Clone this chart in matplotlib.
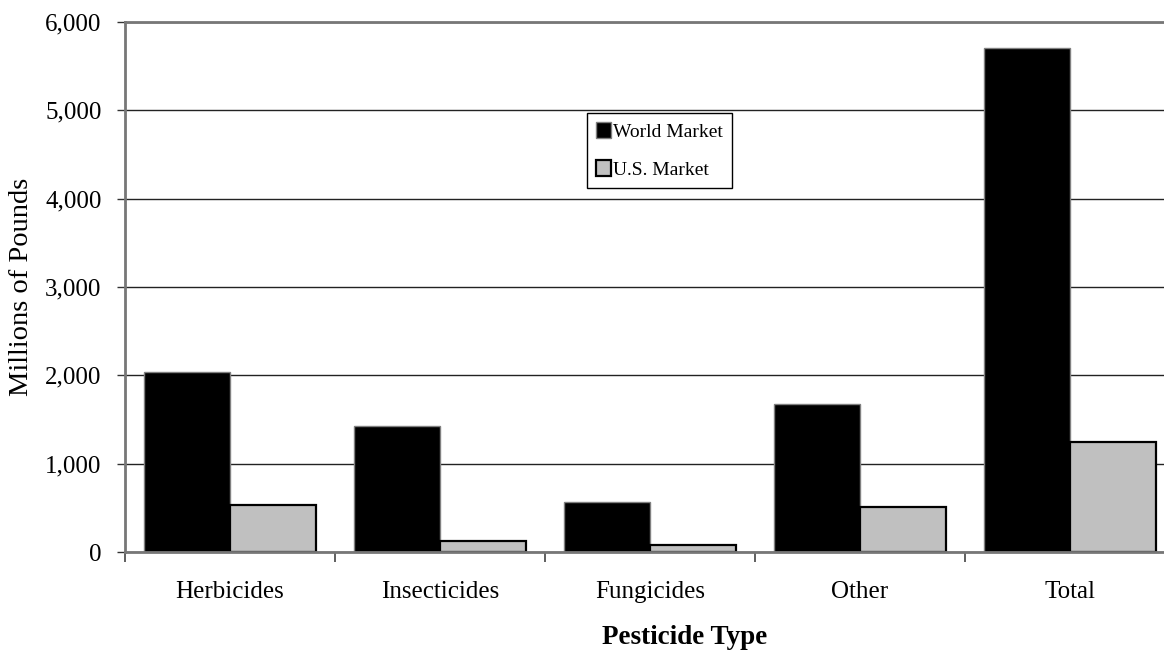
import numpy as np
import matplotlib
matplotlib.use('Agg')
import matplotlib.pyplot as plt
from matplotlib.ticker import FuncFormatter, FixedLocator

plt.rcParams['font.family'] = ['Liberation Serif', 'DejaVu Serif']

# pesticide use, millions of pounds
categories = ['Herbicides', 'Insecticides', 'Fungicides', 'Other', 'Total']
world_market = [2040, 1425, 565, 1675, 5700]
us_market = [530, 120, 80, 510, 1245]

fig = plt.figure(figsize=(11.64, 6.53), dpi=100)
ax = fig.add_axes([0.10739, 0.15467, 0.90206, 0.81164])

x = np.arange(len(categories))
w = 0.41
ax.bar(x - w / 2, world_market, w, color='black', edgecolor='#808080',
       linewidth=1, label='World Market', zorder=3)
ax.bar(x + w / 2, us_market, w, color='#c0c0c0', edgecolor='black',
       linewidth=1.6, label='U.S. Market', zorder=3)

ax.set_xlim(-0.5, 4.5)
ax.set_ylim(0, 6000)
ax.set_yticks(range(0, 6001, 1000))
ax.yaxis.set_major_formatter(FuncFormatter(lambda v, p: f'{int(v):,}'))
ax.yaxis.grid(True, color='#222222', linewidth=1, zorder=0)

ax.set_xticks(x)
ax.set_xticklabels(categories)
ax.xaxis.set_minor_locator(FixedLocator(np.arange(-0.5, 5, 1.0)))
ax.tick_params(axis='x', which='major', length=0, pad=21, labelsize=18)
ax.tick_params(axis='x', which='minor', length=7, width=1.2, color='#444444',
               direction='out')
ax.tick_params(axis='y', length=6, width=1, color='#333333', pad=11,
               labelsize=18)

for side in ['left', 'bottom', 'top']:
    ax.spines[side].set_color('#777777')
    ax.spines[side].set_linewidth(2)
    ax.spines[side].set_zorder(4)
ax.spines['right'].set_visible(False)

fig.text(22 / 1164, 1 - 287 / 653, 'Millions of Pounds', rotation=90,
         ha='center', va='center', fontsize=20.5)
fig.text(685 / 1164, 1 - 637 / 653, 'Pesticide Type', ha='center',
         va='center', fontsize=19.5, fontweight='bold')

leg = ax.legend(loc='upper left', bbox_to_anchor=(587 / 1164, 1 - 113 / 653),
                bbox_transform=fig.transFigure, borderaxespad=0,
                fancybox=False, edgecolor='black', framealpha=1,
                fontsize=14, handlelength=0.8, handleheight=0.9,
                handletextpad=0.1, labelspacing=1.0, borderpad=0.45)
leg.get_frame().set_linewidth(1)

fig.savefig('out.png', dpi=100)
